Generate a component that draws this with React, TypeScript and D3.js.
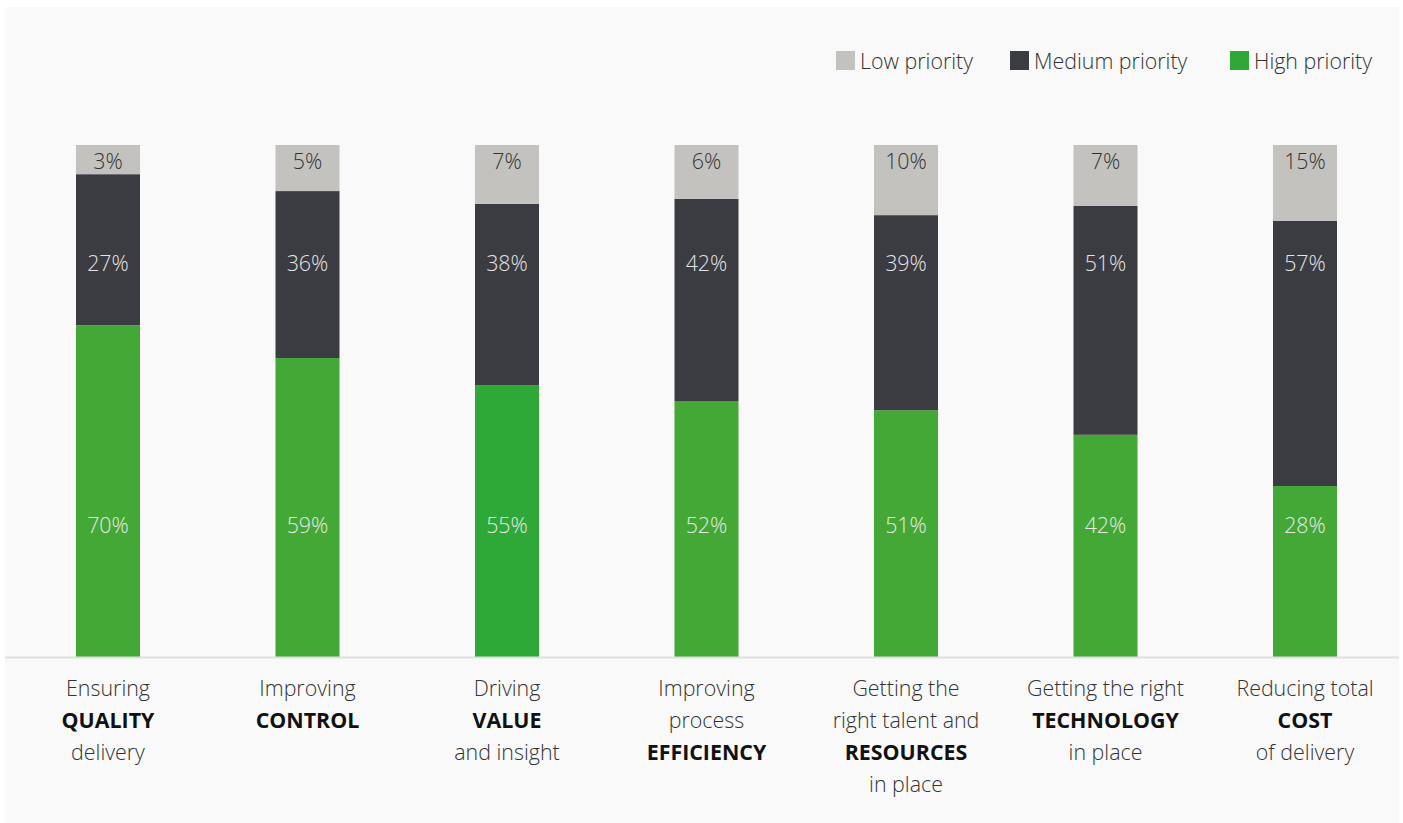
import React from "react";
import * as d3 from "d3";

// ---- Data ----
const categories = ["quality", "control", "value", "efficiency", "resources", "technology", "cost"];

// Category label lines: [text, bold]
const categoryLines: [string, boolean][][] = [
  [["Ensuring", false], ["QUALITY", true], ["delivery", false]],
  [["Improving", false], ["CONTROL", true]],
  [["Driving", false], ["VALUE", true], ["and insight", false]],
  [["Improving", false], ["process", false], ["EFFICIENCY", true]],
  [["Getting the", false], ["right talent and", false], ["RESOURCES", true], ["in place", false]],
  [["Getting the right", false], ["TECHNOLOGY", true], ["in place", false]],
  [["Reducing total", false], ["COST", true], ["of delivery", false]],
];

const highShare = [64.8, 58.4, 53.1, 50.0, 48.2, 43.4, 33.4];
const mediumShare = [29.5, 32.6, 35.4, 39.5, 38.1, 44.7, 51.8];
const lowShare = [5.7, 9.0, 11.5, 10.5, 13.7, 11.9, 14.8];

// Printed labels (%)
const highLabels = [70, 59, 55, 52, 51, 42, 28];
const mediumLabels = [27, 36, 38, 42, 39, 51, 57];
const lowLabels = [3, 5, 7, 6, 10, 7, 15];

const legendItems = ["Low priority", "Medium priority", "High priority"];

// ---- Styles ----
const W = 1403;
const H = 823;
const FONT = "'Open Sans', 'Noto Sans', sans-serif";
const FS = 21.4;
const C_LOW = "#c4c2bf";
const C_MED = "#3b3c41";
const C_HIGH = "#43a835";
const C_HIGH_ALT = "#2ea836";
const altIndex = 2;

export default function App() {
  const x = d3
    .scaleBand<string>()
    .domain(categories)
    .range([8.25, 1404.75])
    .paddingInner(1 - 64 / 199.5)
    .paddingOuter((1 - 64 / 199.5) / 2);
  const y = d3.scaleLinear().domain([0, 100]).range([657, 145]);

  const rows = categories.map((c, i) => ({
    key: c,
    i,
    high: highShare[i],
    medium: mediumShare[i],
    low: lowShare[i],
  }));
  const stack = d3.stack<any>().keys(["high", "medium", "low"]);
  const series = stack(rows);
  const segColor: Record<string, string> = { high: C_HIGH, medium: C_MED, low: C_LOW };

  const legendX = [836, 1010, 1230];
  const legendColors = [C_LOW, C_MED, C_HIGH_ALT];

  return (
    <svg
      width={W}
      height={H}
      style={{ position: "absolute", left: 0, top: 0, fontFamily: FONT }}
    >
      <rect x={0} y={0} width={W} height={H} fill="#ffffff" />
      <rect x={5} y={7} width={1394} height={H - 7} fill="#f9f9f9" />

      {/* Legend */}
      {legendItems.map((t, i) => (
        <g key={t}>
          <rect x={legendX[i]} y={51} width={19} height={19} fill={legendColors[i]} />
          <text
            x={legendX[i] + 24}
            y={69}
            fontSize={FS}
            fontWeight={300}
            fill="#333"
          >
            {t}
          </text>
        </g>
      ))}

      {/* Bars */}
      {series.map((s) =>
        s.map((d: any, i: number) => (
          <rect
            key={s.key + i}
            x={x(categories[i])}
            width={x.bandwidth()}
            y={y(d[1])}
            height={y(d[0]) - y(d[1])}
            fill={s.key === "high" && i === altIndex ? C_HIGH_ALT : segColor[s.key]}
          />
        ))
      )}

      {/* Baseline */}
      <line x1={5} x2={1399} y1={657.5} y2={657.5} stroke="#e0e0e0" strokeWidth={2} />

      {/* Value labels */}
      {categories.map((c, i) => {
        const cx = (x(c) as number) + x.bandwidth() / 2;
        return (
          <g key={"lab" + c} textAnchor="middle" fontSize={FS} fontWeight={300}>
            <text x={cx} y={y(100) + 24} fill="#333">{lowLabels[i]}%</text>
            <text x={cx} y={271} fill="#e4e4e4">{mediumLabels[i]}%</text>
            <text x={cx} y={533} fill="#e8e8e8">{highLabels[i]}%</text>
          </g>
        );
      })}

      {/* Category labels */}
      {categories.map((c, i) => {
        const cx = (x(c) as number) + x.bandwidth() / 2;
        return (
          <g key={"cat" + c} textAnchor="middle" fontSize={FS}>
            {categoryLines[i].map(([t, b], j) => (
              <text
                key={j}
                x={cx}
                y={696 + j * 32}
                fontWeight={b ? 700 : 300}
                fill={b ? "#111" : "#333"}
              >
                {t}
              </text>
            ))}
          </g>
        );
      })}
    </svg>
  );
}
